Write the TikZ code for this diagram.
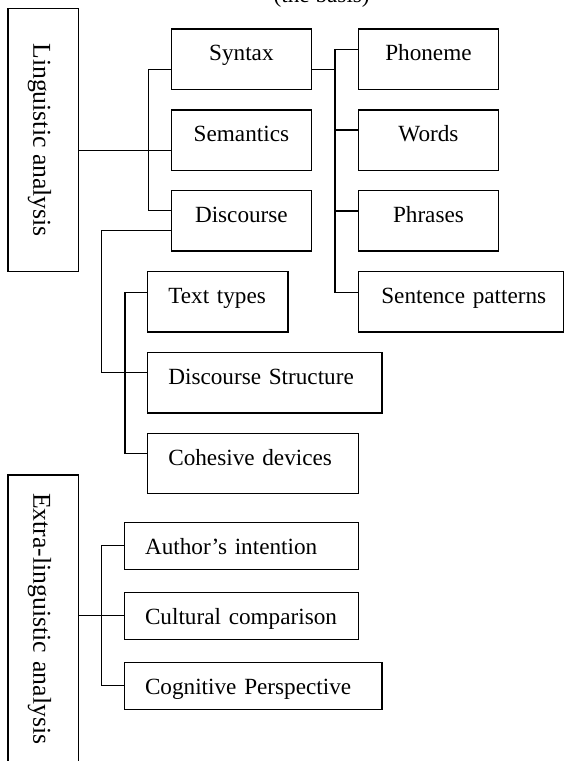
\documentclass[tikz,border=0pt]{standalone}
\usepackage{fontspec}
\setmainfont{Liberation Serif}
\usetikzlibrary{calc}
\begin{document}
\begin{tikzpicture}[x=1pt,y=-1pt,
  every node/.style={outer sep=0pt},
  txt/.style={font=\fontsize{23.2pt}{27pt}\selectfont},
  bx/.style={draw, line width=1.3pt, txt, inner ysep=0pt, text height=31.8pt},
  tall/.style={text depth=28.5pt},
  short/.style={text depth=15.2pt},
  cbox/.style={bx, inner xsep=0pt, minimum width=#1},
  lbox/.style 2 args={bx, inner xsep=#2, text width=#1, align=left},
  vbox/.style={draw, line width=1.3pt, rotate=-90, font=\fontsize{25.7pt}{30pt}\selectfont,
    inner ysep=0pt, text height=45.1pt, text depth=25.4pt},
  conn/.style={line width=1.3pt}
]
\useasboundingbox (0,0) rectangle (564,761);
\clip (0,0) rectangle (564,761);

\node[txt, anchor=base, inner sep=0pt] (basis) at (321.7,2.5) {(the basis)};

% left column boxes
\node[vbox, inner xsep=0pt, minimum width=263.2pt] (ling) at (43.15,140.1) {Linguistic analysis};
\node[vbox, inner xsep=18pt, text width=264pt, align=left] (ext) at (43.15,625) {Extra-linguistic analysis};

% second column
\node[cbox=140.4pt, tall] (syn) at (241.4,59.15) {Syntax};
\node[cbox=140.4pt, tall] (sem) at (241.4,140.15) {Semantics};
\node[cbox=140.4pt, tall] (dis) at (241.4,220.85) {Discourse};

% third column
\node[cbox=140.3pt, tall] (pho) at (428.45,59.15) {Phoneme};
\node[cbox=140.3pt, tall] (wor) at (428.45,140.15) {Words};
\node[cbox=140.3pt, tall] (phr) at (428.45,220.85) {Phrases};
\node[lbox={159pt}{23pt}, tall] (sen) at (460.8,301.85) {\mbox{Sentence patterns}};

% discourse sub-items
\node[lbox={99.3pt}{20.5pt}, tall] (tt) at (217.95,301.85) {\mbox{Text types}};
\node[lbox={193.2pt}{20.5pt}, tall] (ds) at (264.9,382.85) {\mbox{Discourse Structure}};
\node[lbox={169.5pt}{20.5pt}, tall] (cd) at (253.05,463.45) {\mbox{Cohesive devices}};

% extra-linguistic sub-items
\node[lbox={193.1pt}{20.5pt}, short] (ai) at (241.55,545.7) {\mbox{Author’s intention}};
\node[lbox={193.1pt}{20.5pt}, short] (cc) at (241.55,615.8) {\mbox{Cultural comparison}};
\node[lbox={216.5pt}{20.5pt}, short] (cp) at (253.25,685.8) {\mbox{Cognitive Perspective}};

% junction columns
\coordinate (j1) at (148.2,0);
\coordinate (j2) at (335,0);
\coordinate (j3) at (101.7,0);
\coordinate (j4) at (125,0);
\coordinate (j5) at (101.5,0);

% entry / exit points
\coordinate (semin) at ($(sem.west)+(0,10.5)$);
\coordinate (synin) at ($(syn.west)+(0,10.2)$);
\coordinate (disin) at ($(dis.west)+(0,-10.15)$);
\coordinate (synout) at ($(syn.east)+(0,10.2)$);
\coordinate (phoin) at ($(pho.west)+(0,-9.85)$);
\coordinate (worin) at ($(wor.west)+(0,-10.15)$);
\coordinate (phrin) at ($(phr.west)+(0,-9.85)$);
\coordinate (senin) at ($(sen.west)+(0,-9.55)$);
\coordinate (disout) at ($(dis.west)+(0,9.85)$);
\coordinate (dsin) at ($(ds.west)+(0,-10.15)$);
\coordinate (ttin) at ($(tt.west)+(0,-9.55)$);
\coordinate (cdin) at ($(cd.west)+(0,-10.15)$);

% connectors
\draw[conn] (semin -| ling.north) -- (semin);
\draw[conn] (synin) -- (synin -| j1) -- (disin -| j1) -- (disin);
\draw[conn] (synout) -- (synout -| j2);
\draw[conn] (phoin) -- (phoin -| j2) -- (senin -| j2) -- (senin);
\draw[conn] (worin -| j2) -- (worin);
\draw[conn] (phrin -| j2) -- (phrin);
\draw[conn] (disout) -- (disout -| j3) -- (dsin -| j3) -- (dsin);
\draw[conn] (ttin) -- (ttin -| j4) -- (cdin -| j4) -- (cdin);
\draw[conn] (ext.north |- cc.west) -- (cc.west);
\draw[conn] (ai.west) -- (ai.west -| j5) -- (cp.west -| j5) -- (cp.west);
\end{tikzpicture}
\end{document}
